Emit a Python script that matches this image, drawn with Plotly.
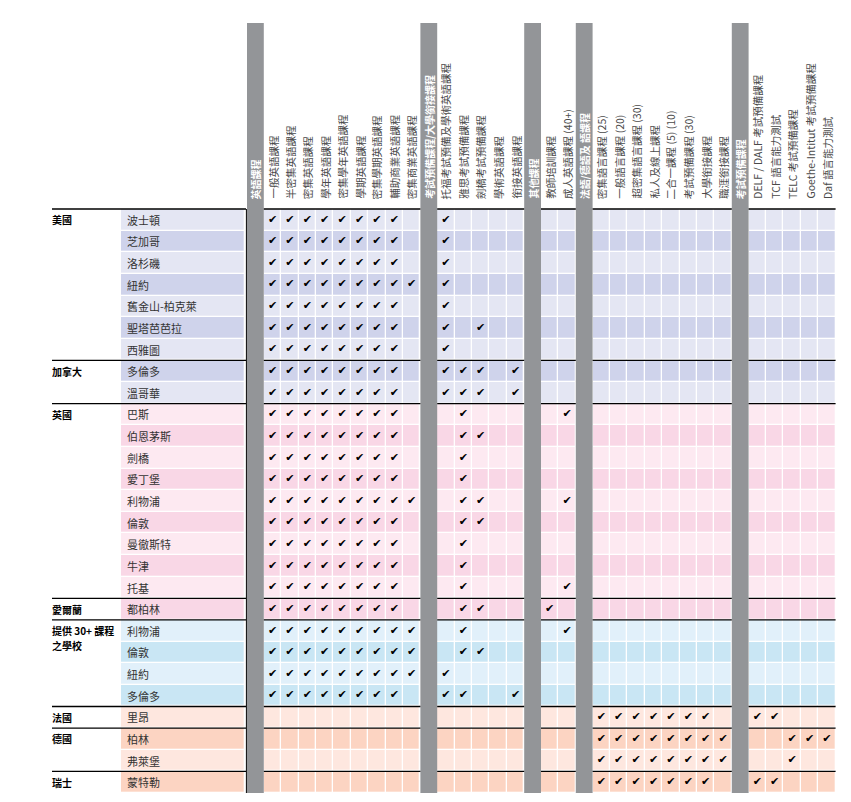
import math
import plotly.graph_objects as go

# ---------------- data ----------------
country_names = ["美國", "加拿大", "英國", "愛爾蘭", "提供 30+ 課程|之學校", "法國", "德國", "瑞士"]
country_cities = [
    ["波士頓", "芝加哥", "洛杉磯", "紐約", "舊金山-柏克萊", "聖塔芭芭拉", "西雅圖"],
    ["多倫多", "溫哥華"],
    ["巴斯", "伯恩茅斯", "劍橋", "愛丁堡", "利物浦", "倫敦", "曼徹斯特", "牛津", "托基"],
    ["都柏林"],
    ["利物浦", "倫敦", "紐約", "多倫多"],
    ["里昂"],
    ["柏林", "弗萊堡"],
    ["蒙特勒"],
]
country_family = [0, 0, 1, 1, 2, 3, 3, 3]

group_names = ["英語課程", "考試預備課程/大學銜接課程", "其他課程", "法語/德語及 語課程", "考試預備課程"]
english_courses = ["一般英語課程", "半密集英語課程", "密集英語課程", "學年英語課程", "密集學年英語課程",
                   "學期英語課程", "密集學期英語課程", "輔助商業英語課程", "密集商業英語課程"]
exam_courses = ["托福考試預備及學術英語課程", "雅思考試預備課程", "劍橋考試預備課程", "學術英語課程", "銜接英語課程"]
other_courses = ["教師培訓課程", "成人英語課程 (40+)"]
language_courses = ["密集語言課程 (25)", "一般語言課程 (20)", "超密集語言課程 (30)", "私人及線上課程",
                    "二合一課程 (5) (10)", "考試預備課程 (30)", "大學銜接課程", "職涯銜接課程"]
exam2_courses = ["DELF / DALF 考試預備課程", "TCF 語言能力測試", "TELC 考試預備課程",
                 "Goethe-Intitut 考試預備課程", "Daf 語言能力測試"]

# one string per row (27 rows, same order as the cities above); "1" = course offered
english_checks = ["111111110", "111111110", "111111110", "111111111", "111111110", "111111110", "111111110",
                  "111111110", "111111110",
                  "111111110", "111111110", "111111110", "111111110", "111111111", "111111110", "111111110",
                  "111111110", "111111110",
                  "111111110",
                  "111111111", "111111111", "111111111", "111111110",
                  "000000000", "000000000", "000000000", "000000000"]
exam_checks = ["10000", "10000", "10000", "10000", "10000", "10100", "10000",
               "11101", "11101",
               "01000", "01100", "01000", "01000", "01100", "01100", "01000", "01000", "01000",
               "01100",
               "01000", "01100", "10000", "11001",
               "00000", "00000", "00000", "00000"]
other_checks = ["00", "00", "00", "00", "00", "00", "00",
                "00", "00",
                "01", "00", "00", "00", "01", "00", "00", "00", "01",
                "10",
                "01", "00", "00", "00",
                "00", "00", "00", "00"]
language_checks = ["00000000"] * 23 + ["11111110", "11111111", "11111111", "11111110"]
exam2_checks = ["00000"] * 23 + ["11000", "00111", "00100", "11000"]

# ---------------- styling / geometry ----------------
W, H = 851, 802
UNIT = 17.4          # px per data column
ROW = 21.63          # px per row
X0, Y0 = 247, 209    # px of first gray bar left edge / first body row top
BW = 16.8 / UNIT     # gray bar width in column units
FONT = "Noto Sans CJK TC, Noto Sans, sans-serif"
GRAY = "#939598"
FAMILY_COLORS = [("#e4e6f3", "#cfd3eb"), ("#fde9f1", "#f9d7e6"),
                 ("#e1f0fa", "#c9e6f4"), ("#fee7df", "#fcd4c2")]

def px2x(p):
    return (p - X0) / UNIT

def py2y(p):
    return (p - Y0) / ROW

groups = [
    (group_names[0], english_courses, english_checks),
    (group_names[1], exam_courses, exam_checks),
    (group_names[2], other_courses, other_checks),
    (group_names[3], language_courses, language_checks),
    (group_names[4], exam2_courses, exam2_checks),
]

# rows
rows = []
for ci, (cname, cities) in enumerate(zip(country_names, country_cities)):
    for city in cities:
        rows.append((ci, city))
n_rows = len(rows)
fam_counter = {}
row_code = []
for ci, city in rows:
    f = country_family[ci]
    k = fam_counter.get(f, 0)
    fam_counter[f] = k + 1
    row_code.append(f * 2 + (k % 2))

# columns
x_edges = [px2x(121), px2x(245), 0.0]
col_kind = ["city", "gap"]
cursor = 0.0
bar_centers = []
group_spans = []
col_centers = []
col_labels = []
col_check_src = []
for gname, courses, checks in groups:
    bar_centers.append(cursor + BW / 2)
    cursor += BW
    x_edges.append(cursor)
    col_kind.append("bar")
    start = cursor
    for j, c in enumerate(courses):
        col_centers.append(cursor + 0.5)
        col_labels.append(c)
        col_check_src.append((checks, j))
        cursor += 1
        x_edges.append(cursor)
        col_kind.append("data")
    group_spans.append((start, cursor))

# heatmap of cells
z = []
for r in range(n_rows):
    z.append([row_code[r] if k in ("city", "data") else None for k in col_kind])
ncol = 8
cs = []
for k in range(ncol):
    color = FAMILY_COLORS[k // 2][k % 2]
    cs.append([k / ncol, color])
    cs.append([(k + 1) / ncol, color])

fig = go.Figure()
fig.add_trace(go.Heatmap(
    z=z, x=x_edges, y=list(range(n_rows + 1)),
    colorscale=cs, zmin=-0.5, zmax=ncol - 0.5, showscale=False,
    xgap=1.3, ygap=1.3, hoverinfo="skip"))

# gray group bars
top_y = py2y(23)
fig.add_trace(go.Bar(
    x=bar_centers, y=[n_rows - top_y] * len(bar_centers), base=top_y,
    width=BW, marker=dict(color=GRAY, line=dict(width=0)), hoverinfo="skip"))

# separator lines between countries
sep_rows = []
acc = 0
for cities in country_cities:
    sep_rows.append(acc)
    acc += len(cities)
lx, ly = [], []
for yv in sep_rows:
    for a, b in [(px2x(52), px2x(246))] + group_spans:
        lx += [a, b, None]
        ly += [yv, yv, None]
fig.add_trace(go.Scatter(x=lx, y=ly, mode="lines", line=dict(color="black", width=1.3),
                         hoverinfo="skip"))
fig.add_trace(go.Scatter(x=[px2x(246.4), px2x(246.4)], y=[0, n_rows], mode="lines",
                         line=dict(color="black", width=1), hoverinfo="skip"))

# check marks
cx, cy = [], []
for r in range(n_rows):
    for xc, (checks, j) in zip(col_centers, col_check_src):
        if checks[r][j] == "1":
            cx.append(xc)
            cy.append(r + 0.5)
fig.add_trace(go.Scatter(x=cx, y=cy, mode="text", text=["✔"] * len(cx),
                         textfont=dict(family="DejaVu Sans", size=11, color="black"),
                         hoverinfo="skip"))

annotations = []
# city labels
for r, (ci, city) in enumerate(rows):
    annotations.append(dict(x=px2x(125), y=r + 0.5, xref="x", yref="y", text=city,
                            showarrow=False, xanchor="left", yanchor="middle",
                            font=dict(family=FONT, size=11, color="#333333")))
# country labels (a "|" marks a line break)
for ci, yv in enumerate(sep_rows):
    for li, part in enumerate(country_names[ci].split("|")):
        annotations.append(dict(x=px2x(51), y=yv + 0.1 + li * 14.5 / ROW, xref="x", yref="y",
                                text="<b>" + part + "</b>", borderpad=0,
                                showarrow=False, xanchor="left", yanchor="top", align="left",
                                font=dict(family=FONT, size=10, color="black")))
# column headers
hy = py2y(201)
for xc, lab in zip(col_centers, col_labels):
    annotations.append(dict(x=xc, y=hy, xref="x", yref="y", text=lab, textangle=-90,
                            showarrow=False, xanchor="center", yanchor="bottom",
                            font=dict(family=FONT, size=10.5, color="#4a4a4a")))
# group headers on gray bars
for xc, g in zip(bar_centers, group_names):
    annotations.append(dict(x=xc, y=hy, xref="x", yref="y", text="<b>" + g + "</b>", textangle=-90,
                            showarrow=False, xanchor="center", yanchor="bottom",
                            font=dict(family=FONT, size=10, color="white")))

fig.update_layout(
    width=W, height=H, margin=dict(l=0, r=0, t=0, b=0),
    paper_bgcolor="white", plot_bgcolor="white", showlegend=False,
    xaxis=dict(range=[px2x(0), px2x(W)], visible=False, fixedrange=True),
    yaxis=dict(range=[py2y(H), py2y(0)], visible=False, fixedrange=True),
    annotations=annotations,
)

fig.write_html("out.html", config={"displayModeBar": False},
               post_script="document.body.style.margin='0';")
